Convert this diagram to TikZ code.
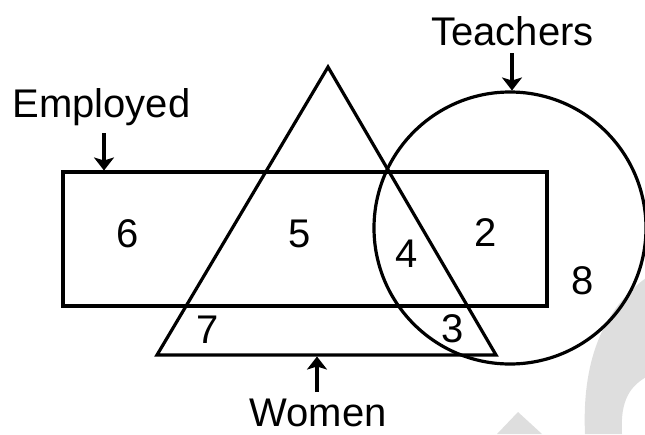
\documentclass[tikz,border=0pt]{standalone}
\usepackage{fontspec}
\setmainfont{Liberation Sans}
\usetikzlibrary{arrows.meta}
\begin{document}
\begin{tikzpicture}[x=1pt,y=-1pt,
  shapeline/.style={line width=3.2pt, line join=miter},
  lbl/.style={inner sep=0pt, anchor=base, font=\fontsize{40}{48}\selectfont},
  num/.style={inner sep=0pt, anchor=base, font=\fontsize{40}{48}\selectfont},
  pointer/.style={line width=3.5pt, -{Stealth[length=13pt,width=20pt,inset=3pt]}},
  wm/.style={fill=black!13, draw=none}]
\useasboundingbox (0,0) rectangle (645,434);
% faint watermark
\fill[wm] (585,434) .. controls (582,365) and (600,310) .. (650,275) -- (650,375) .. controls (630,385) and (620,400) .. (622,434) -- cycle;
\fill[wm] (518,412) -- (542,434) -- (497,434) -- cycle;
% sets
\coordinate (R1) at (63,172);
\coordinate (R2) at (547,306);
\draw[shapeline] (R1) rectangle (R2);
\coordinate (TA) at (328,67);
\coordinate (TL) at (157,355);
\coordinate (TR) at (496,355);
\draw[shapeline] (TA) -- (TL) -- (TR) -- cycle;
\coordinate (C) at (510,228);
\draw[shapeline] (C) circle[radius=136];
% labels
\node[lbl] (teach) at (512.5,45) {Teachers};
\node[lbl] (emp) at (101.5,117) {Employed};
\node[lbl] (wom) at (318,426) {Women};
% arrows
\coordinate (teachA) at (512,53);
\coordinate (teachB) at (512,90.5);
\coordinate (empA) at (104,133);
\coordinate (empB) at (104,170.5);
\coordinate (womA) at (317,392);
\coordinate (womB) at (317,356.5);
\draw[pointer] (teachA) -- (teachB);
\draw[pointer] (empA) -- (empB);
\draw[pointer] (womA) -- (womB);
% region numbers
\node[num] (n6) at (128,247.5) {6};
\node[num] (n5) at (300,247) {5};
\node[num] (n4) at (407,267) {4};
\node[num] (n2) at (486,246) {2};
\node[num] (n8) at (583,294) {8};
\node[num] (n7) at (208,343) {7};
\node[num] (n3) at (453,342) {3};
\end{tikzpicture}
\end{document}
